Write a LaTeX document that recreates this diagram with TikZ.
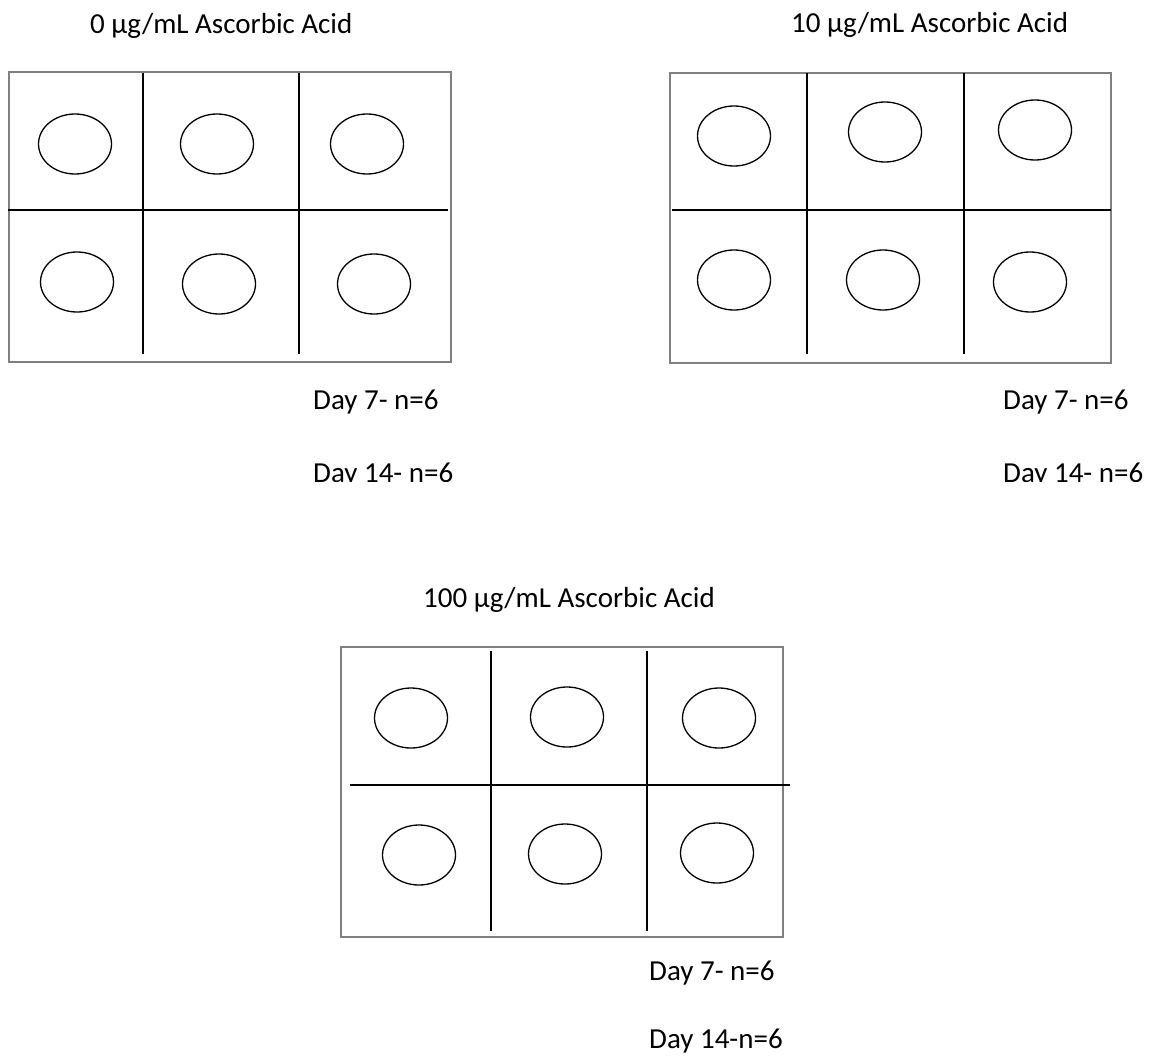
\documentclass[tikz,border=0pt]{standalone}
\usepackage{fontspec}
\setmainfont{Carlito}
\usetikzlibrary{shapes.geometric}
\begin{document}
\begin{tikzpicture}[x=1pt,y=-1pt,
  plate/.style={draw=black!50,line width=1.1pt},
  divider/.style={draw=black,line width=1.5pt},
  well/.style={draw=black,line width=1.3pt,ellipse,minimum width=73pt,minimum height=60pt,inner sep=0pt},
  lbl/.style={anchor=base west,inner sep=0pt,font=\fontsize{29}{34}\selectfont}]
\useasboundingbox (0,0) rectangle (1155,1057);
% ---------- Plate 1: 0 ug/mL ----------
\node[lbl] (t1) at (90,34) {0 µg/mL Ascorbic Acid};
\draw[plate] (9,72) rectangle (451,362);
\draw[divider] (143,73) -- (143,354);
\draw[divider] (299,73) -- (299,354);
\draw[divider] (8,210) -- (448,210);
\node[well] (a1) at (75,144) {};
\node[well] (a2) at (217,144) {};
\node[well] (a3) at (367,144) {};
\node[well] (a4) at (77,282) {};
\node[well] (a5) at (219,284) {};
\node[well] (a6) at (374,284) {};
\node[lbl] (d1a) at (313,409) {Day 7- n=6};
\begin{scope}
\clip (0,440) rectangle (1155,481);
\node[lbl] (d1b) at (313,482) {Day 14- n=6};
\node[lbl] (d2b) at (1003,482) {Day 14- n=6};
\end{scope}
% ---------- Plate 2: 10 ug/mL ----------
\node[lbl] (t2) at (791,33) {10 µg/mL Ascorbic Acid};
\draw[plate] (670,73) rectangle (1111,363);
\draw[divider] (807,73) -- (807,354);
\draw[divider] (964,73) -- (964,354);
\draw[divider] (672,210) -- (1111,210);
\node[well] (b1) at (734,136) {};
\node[well] (b2) at (885,132) {};
\node[well] (b3) at (1035,130) {};
\node[well] (b4) at (734,280) {};
\node[well] (b5) at (883,280) {};
\node[well] (b6) at (1030,282) {};
\node[lbl] (d2a) at (1003,409) {Day 7- n=6};
% ---------- Plate 3: 100 ug/mL ----------
\node[lbl] (t3) at (423,607) {100 µg/mL Ascorbic Acid};
\draw[plate] (341,647) rectangle (783,937);
\draw[divider] (491,651) -- (491,931);
\draw[divider] (647,651) -- (647,931);
\draw[divider] (350,785) -- (790,785);
\node[well] (c1) at (411,718) {};
\node[well] (c2) at (567,717) {};
\node[well] (c3) at (719,718) {};
\node[well] (c4) at (419,855) {};
\node[well] (c5) at (565,854) {};
\node[well] (c6) at (717,853) {};
\node[lbl] (d3a) at (649,980) {Day 7- n=6};
\node[lbl] (d3b) at (649,1048) {Day 14-n=6};
\end{tikzpicture}
\end{document}
